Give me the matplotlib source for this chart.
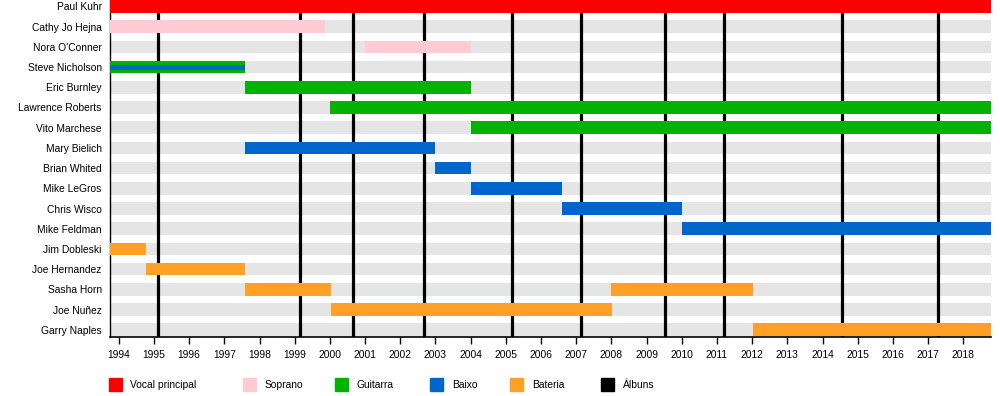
import matplotlib
matplotlib.use("Agg")
import matplotlib.pyplot as plt
from matplotlib.patches import Rectangle

plt.rcParams['font.family'] = ['Liberation Sans', 'DejaVu Sans']

members = ["Paul Kuhr", "Cathy Jo Hejna", "Nora O'Conner", "Steve Nicholson",
           "Eric Burnley", "Lawrence Roberts", "Vito Marchese", "Mary Bielich",
           "Brian Whited", "Mike LeGros", "Chris Wisco", "Mike Feldman",
           "Jim Dobleski", "Joe Hernandez", "Sasha Horn", "Joe Nuñez", "Garry Naples"]

period_start = 1993.75
period_end = 2018.78

# (member, start, end) per role
vocal = [("Paul Kuhr", 1993.75, 2018.78)]
soprano = [("Cathy Jo Hejna", 1993.75, 1999.85), ("Nora O'Conner", 2001.0, 2004.0)]
guitarra = [("Steve Nicholson", 1993.75, 1997.58), ("Eric Burnley", 1997.58, 2004.0),
            ("Lawrence Roberts", 2000.0, 2018.78), ("Vito Marchese", 2004.0, 2018.78)]
baixo = [("Mary Bielich", 1997.58, 2003.0), ("Brian Whited", 2003.0, 2004.0),
         ("Mike LeGros", 2004.0, 2006.6), ("Chris Wisco", 2006.6, 2010.02),
         ("Mike Feldman", 2010.02, 2018.78)]
baixo_secondary = [("Steve Nicholson", 1993.75, 1997.58)]
bateria = [("Jim Dobleski", 1993.75, 1994.77), ("Joe Hernandez", 1994.77, 1997.58),
           ("Sasha Horn", 1997.58, 2000.03), ("Joe Nuñez", 2000.03, 2008.02),
           ("Sasha Horn", 2008.0, 2012.02), ("Garry Naples", 2012.02, 2018.78)]
albums = [1995.10, 1999.15, 2000.65, 2002.68, 2005.18, 2007.14, 2009.52,
          2011.21, 2014.54, 2017.29]
years = list(range(1994, 2019))

roles = [("Vocal principal", "#ff0000", vocal), ("Soprano", "#ffccd3", soprano),
         ("Guitarra", "#00b300", guitarra), ("Baixo", "#0066cc", baixo),
         ("Bateria", "#ffa126", bateria)]

FS = 7.4

fig = plt.figure(figsize=(10, 3.96), dpi=100)
ax = fig.add_axes([0.11, 1 - 337 / 396, 0.8807, 337 / 396])

row = {m: i for i, m in enumerate(members)}
h = 0.62

# background bars
ax.barh(range(len(members)), period_end - period_start, left=period_start,
        height=h, color="#e5e5e5", zorder=1)
# album lines
for a in albums:
    ax.axvline(a, color="black", lw=2.3, zorder=2)
for name, color, spans in roles:
    for m, s, e in spans:
        ax.barh(row[m], e - s, left=s, height=h, color=color, zorder=3)
for m, s, e in baixo_secondary:
    ax.barh(row[m], e - s, left=s, height=h * 0.4, color="#0066cc", zorder=4)

ax.set_xlim(period_start, period_end)
ax.set_ylim(16.36, -0.32)
ax.set_yticks(range(len(members)))
ax.set_yticklabels(members, fontsize=FS)
ax.tick_params(axis='y', length=0, pad=6)
ax.set_xticks(years)
ax.set_xticklabels([str(y) for y in years], fontsize=FS)
ax.tick_params(axis='x', length=5, width=1, pad=4, direction='out')
for s in ["top", "right"]:
    ax.spines[s].set_visible(False)
ax.spines["left"].set_linewidth(1)
ax.spines["bottom"].set_linewidth(1.2)

# legend
legend_items = [("Vocal principal", "#ff0000", 108.5), ("Soprano", "#ffccd3", 243),
                ("Guitarra", "#00b300", 334.5), ("Baixo", "#0066cc", 430),
                ("Bateria", "#ffa126", 510), ("Álbuns", "black", 601)]
W, H = 1000, 396
for label, color, x in legend_items:
    fig.add_artist(Rectangle((x / W, 1 - 391 / H), 13 / W, 13 / H,
                             transform=fig.transFigure, color=color))
    fig.text((x + 22) / W, 1 - 385 / H, label, fontsize=FS, va='center', ha='left')

fig.savefig("out.png", dpi=100)
